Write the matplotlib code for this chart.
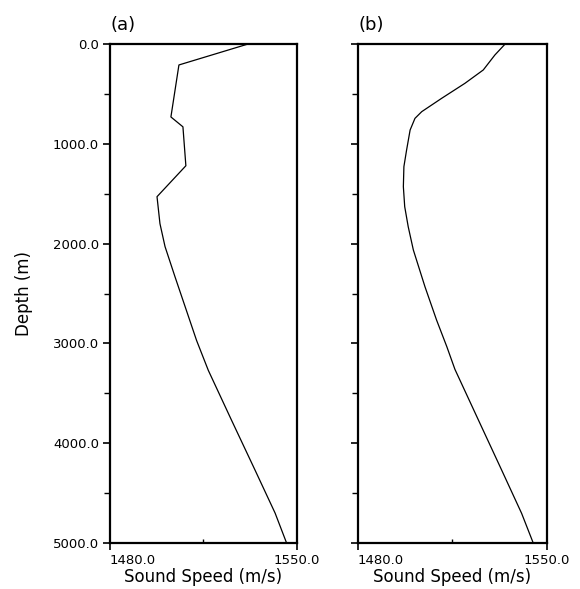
import matplotlib
matplotlib.use("Agg")
import matplotlib.pyplot as plt
from matplotlib.ticker import MultipleLocator, FixedLocator

depth_a = [0, 210, 731, 830, 1220, 1530, 1800, 2030, 2330, 2630, 2970, 3270,
           3770, 4270, 4700, 5000]
speed_a = [1531.7, 1505.8, 1502.8, 1507.3, 1508.4, 1497.6, 1498.7, 1500.6, 1504.3,
           1508.1, 1512.4, 1516.8, 1525.5, 1534.3, 1541.8, 1546.1]

depth_b = [0, 110, 260, 394, 544, 678, 745, 862, 1062, 1229, 1430, 1630, 1831,
           2064, 2432, 2766, 3033, 3260, 3768, 4269, 4703, 5000]
speed_b = [1534.5, 1530.7, 1526.4, 1519.6, 1511.0, 1503.6, 1501.1, 1499.3, 1498.0,
           1497.0, 1496.8, 1497.3, 1498.6, 1500.5, 1504.8, 1509.1, 1512.9, 1515.9,
           1524.6, 1533.2, 1540.6, 1544.9]

yticks = [0, 1000, 2000, 3000, 4000, 5000]
ytick_labels = ["0.0", "1000.0", "2000.0", "3000.0", "4000.0", "5000.0"]
xticks = [1480, 1550]
xtick_labels = ["1480.0", "1550.0"]
panel_labels = ["(a)", "(b)"]

plt.rcParams['font.family'] = ['DejaVu Sans']

fig = plt.figure(figsize=(5.8, 5.89), dpi=100)
ax_a = fig.add_axes([110/580, 1-543/589, 187/580, 499/589])
ax_b = fig.add_axes([358/580, 1-543/589, 189/580, 499/589])

for ax, d, s, lab in [(ax_a, depth_a, speed_a, panel_labels[0]),
                      (ax_b, depth_b, speed_b, panel_labels[1])]:
    ax.plot(s, d, color='black', linewidth=0.9)
    ax.set_xlim(1480, 1550)
    ax.set_ylim(5000, 0)
    for sp in ax.spines.values():
        sp.set_linewidth(1.6)
    ax.set_yticks(yticks)
    ax.yaxis.set_minor_locator(MultipleLocator(500))
    ax.set_xticks(xticks)
    ax.xaxis.set_minor_locator(FixedLocator([1515]))
    ax.tick_params(axis='both', which='major', direction='out', length=5, width=1.2,
                   labelsize=9.5, pad=3)
    ax.tick_params(axis='y', which='minor', direction='out', length=4, width=1.0)
    ax.tick_params(axis='x', which='minor', direction='in', length=3, width=1.0)
    ax.set_xticklabels(xtick_labels)
    tl = ax.get_xticklabels()
    tl[0].set_ha('left')
    ax.set_xlabel("Sound Speed (m/s)", fontsize=12, labelpad=1)
    ax.text(0.0, 1.02, lab, transform=ax.transAxes, fontsize=13, ha='left', va='bottom')

ax_a.set_yticklabels(ytick_labels)
ax_b.set_yticklabels([])
ax_a.set_ylabel("Depth (m)", fontsize=12, labelpad=14)

fig.savefig("out.png", dpi=100, facecolor='white')
